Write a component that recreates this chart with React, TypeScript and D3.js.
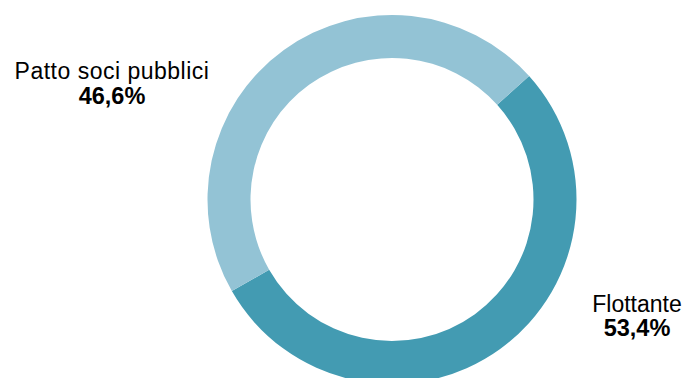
import React from "react";
import * as d3 from "d3";

const categories = ["Flottante", "Patto soci pubblici"];
const values = [53.4, 46.6];
const valueLabels = ["53,4%", "46,6%"];
const colors = ["#439BB2", "#93C3D5"];

const W = 687;
const H = 378;
const cx = 392;
const cy = 199.5;
const outerR = 184.5;
const innerR = 141.5;
const startDeg = 48;

export default function App() {
  const pie = d3
    .pie<number>()
    .sort(null)
    .value((d) => d)
    .startAngle((startDeg * Math.PI) / 180)
    .endAngle((startDeg * Math.PI) / 180 + 2 * Math.PI);
  const arcs = pie(values);
  const arc = d3.arc<d3.PieArcDatum<number>>().innerRadius(innerR).outerRadius(outerR);

  const font = "'Liberation Sans', Arial, sans-serif";
  const labelPos = [
    { x: 637, y1: 311.5, y2: 336, ls: 0 },
    { x: 112, y1: 79, y2: 104, ls: 0.5 },
  ];

  return (
    <svg
      width={W}
      height={H}
      style={{ position: "absolute", left: 0, top: 0, background: "#fff" }}
    >
      <rect width={W} height={H} fill="#fff" />
      <g transform={`translate(${cx},${cy})`}>
        {arcs.map((a, i) => (
          <path key={i} d={arc(a) || ""} fill={colors[i]} />
        ))}
      </g>
      {categories.map((c, i) => (
        <g key={c} fontFamily={font} fill="#000" textAnchor="middle">
          <text x={labelPos[i].x} y={labelPos[i].y1} fontSize={23} letterSpacing={labelPos[i].ls}>
            {c}
          </text>
          <text x={labelPos[i].x} y={labelPos[i].y2} fontSize={23.5} fontWeight="bold">
            {valueLabels[i]}
          </text>
        </g>
      ))}
    </svg>
  );
}
